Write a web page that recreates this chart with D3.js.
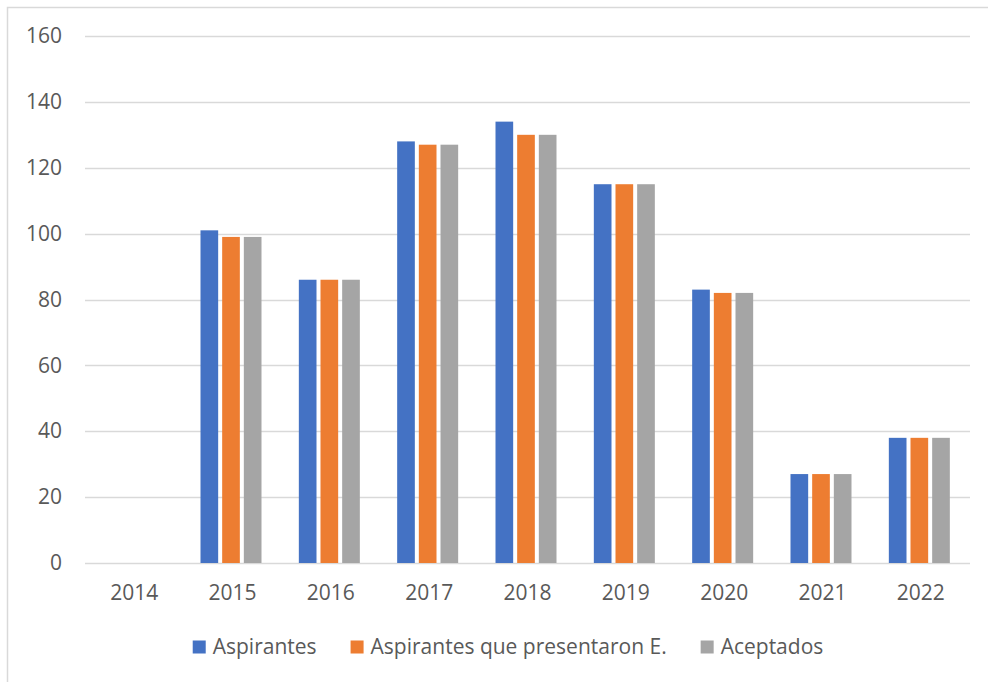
<!DOCTYPE html>
<html>
<head>
<meta charset="utf-8">
<script src="https://cdn.jsdelivr.net/npm/d3@7"></script>
<style>
  body { margin: 0; background: #fff; }
  text { font-family: "Open Sans", "Liberation Sans", sans-serif; fill: #595959; }
</style>
</head>
<body>
<div class="chart"></div>
<script>
let years = ["2014", "2015", "2016", "2017", "2018", "2019", "2020", "2021", "2022"]
let seriesNames = ["Aspirantes", "Aspirantes que presentaron E.", "Aceptados"]
let aspirantes = [0, 101, 86, 128, 134, 115, 83, 27, 38]
let presentaron = [0, 99, 86, 127, 130, 115, 82, 27, 38]
let aceptados = [0, 99, 86, 127, 130, 115, 82, 27, 38]
let yTicks = [0, 20, 40, 60, 80, 100, 120, 140, 160]
let colors = ["#4472c4", "#ed7d31", "#a5a5a5"]

let outerWidth = 988
let outerHeight = 682
let margin = {top: 36, left: 85, right: 18, bottom: 119}
let width = outerWidth - margin.left - margin.right
let height = outerHeight - margin.top - margin.bottom
let fontSize = 21

let data = years.map((y, i) => ({year: y, values: [aspirantes[i], presentaron[i], aceptados[i]]}))

let root = d3.select(".chart")
    .append("svg")
    .attr("width", outerWidth)
    .attr("height", outerHeight)

// chart frame
root.append("rect")
    .attr("x", 7.5)
    .attr("y", 7.5)
    .attr("width", 1000)
    .attr("height", 700)
    .attr("fill", "none")
    .attr("stroke", "#d9d9d9")
    .attr("stroke-width", 1.5)

let svg = root.append("g")
    .attr("transform", `translate(${margin.left}, ${margin.top})`)

// Scales
let xScale = d3.scaleBand()
    .domain(years)
    .range([0, width])

let groupWidth = 65
let x1 = d3.scaleBand()
    .domain(seriesNames)
    .range([0, groupWidth])

let yScale = d3.scaleLinear()
    .domain([0, 160])
    .range([height, 0])

let colorScale = d3.scaleOrdinal(colors).domain(seriesNames)

// Gridlines
svg.append("g")
    .attr("class", "grid")
    .selectAll("line")
    .data(yTicks)
    .enter()
    .append("line")
    .attr("x1", 0)
    .attr("x2", width)
    .attr("y1", d => Math.round(yScale(d)) + 0.5)
    .attr("y2", d => Math.round(yScale(d)) + 0.5)
    .attr("stroke", "#d9d9d9")
    .attr("stroke-width", 1.5)

// Axes
const yAxis = d3.axisLeft(yScale)
    .tickValues(yTicks)
    .tickSize(0)
    .tickPadding(23)

svg.append("g")
    .attr("class", "axis y-axis")
    .call(yAxis)
    .call(g => g.select(".domain").remove())
    .selectAll("text")
    .style("font-size", fontSize + "px")
    .attr("fill", "#595959")

const xAxis = d3.axisBottom(xScale)
    .tickSize(0)
    .tickPadding(22)

svg.append("g")
    .attr("class", "axis x-axis")
    .attr("transform", `translate(0, ${height})`)
    .call(xAxis)
    .call(g => g.select(".domain").remove())
    .selectAll("text")
    .style("font-size", fontSize + "px")
    .attr("fill", "#595959")

// Bars
let groups = svg.selectAll(".year")
    .data(data)
    .enter()
    .append("g")
    .attr("class", "year")
    .attr("transform", d => `translate(${xScale(d.year) + (xScale.bandwidth() - groupWidth) / 2}, 0)`)

groups.selectAll("rect")
    .data(d => d.values.map((v, i) => ({name: seriesNames[i], value: v})))
    .enter()
    .filter(d => d.value > 0)
    .append("rect")
    .attr("x", d => x1(d.name) + 0.5)
    .attr("width", x1.bandwidth() - 4)
    .attr("y", d => yScale(d.value))
    .attr("height", d => height - yScale(d.value))
    .attr("fill", d => colorScale(d.name))

// Legend
let legend = root.append("g").attr("class", "legend")
let items = legend.selectAll("g")
    .data(seriesNames)
    .enter()
    .append("g")

items.append("rect")
    .attr("width", 13)
    .attr("height", 13)
    .attr("y", -6.5)
    .attr("fill", d => colorScale(d))

items.append("text")
    .attr("x", 20)
    .attr("dy", "0.35em")
    .style("font-size", fontSize + "px")
    .text(d => d)

let gap = 34
let offsets = []
let pos = 0
items.each(function(d) {
    let w = 20 + this.querySelector("text").getComputedTextLength()
    offsets.push(pos)
    pos += w + gap
})
let total = pos - gap
let startX = 508 - total / 2
items.attr("transform", (d, i) => `translate(${startX + offsets[i]}, 647)`)
</script>
</body>
</html>
